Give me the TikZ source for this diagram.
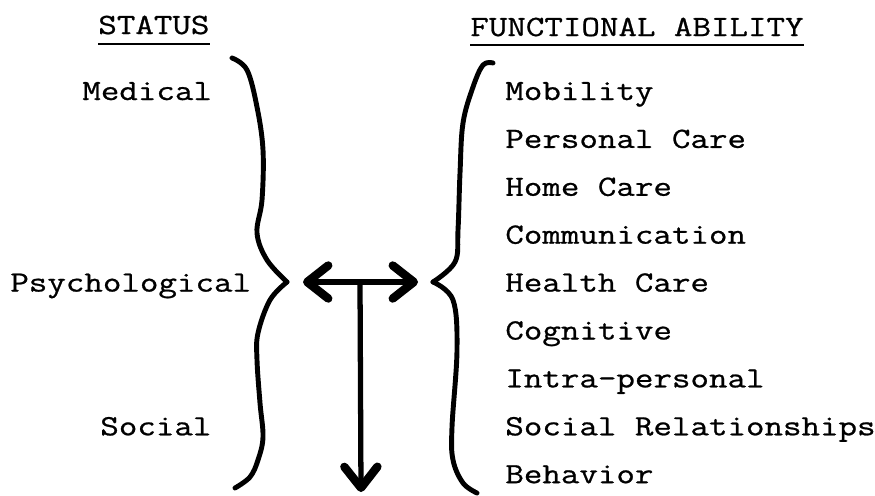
\documentclass[tikz,border=0pt]{standalone}
\usepackage{fontspec}
\setmonofont[FakeStretch=1.225, FakeBold=0.8]{Latin Modern Mono}
\usetikzlibrary{positioning,arrows.meta}

\begin{document}
\begin{tikzpicture}[
  item/.style={inner sep=0pt, anchor=base west, font=\ttfamily\fontsize{16.7}{20}\selectfont},
  brace/.style={line width=2.8pt, line cap=round, line join=round},
  link/.style={line width=3pt, -{Straight Barb[length=4.2mm, width=6.6mm, line width=4.8pt, round]}},
  node distance=0.958cm
]
\useasboundingbox (0,0) rectangle (17.5,-9.9);

% Headings
\node[item] (status) at (1.96,-0.68) {STATUS};
\node[item] (ability) at (9.40,-0.72) {FUNCTIONAL ABILITY};
\draw[line width=0.8pt] ([yshift=-0.2cm]status.base west) -- ([yshift=-0.2cm]status.base east);
\draw[line width=0.8pt] ([yshift=-0.18cm]ability.base west) -- ([yshift=-0.18cm]ability.base east);

% Functional ability list
\node[item] (m1) at (10.10,-2.00) {Mobility};
\node[item, below=of m1.base west, anchor=base west] (m2) {Personal Care};
\node[item, below=of m2.base west, anchor=base west] (m3) {Home Care};
\node[item, below=of m3.base west, anchor=base west] (m4) {Communication};
\node[item, below=of m4.base west, anchor=base west] (m5) {Health Care};
\node[item, below=of m5.base west, anchor=base west] (m6) {Cognitive};
\node[item, below=of m6.base west, anchor=base west] (m7) {Intra-personal};
\node[item, below=of m7.base west, anchor=base west] (m8) {Social Relationships};
\node[item, below=of m8.base west, anchor=base west] (m9) {Behavior};

% Status list (same typed lines)
\node[item] (med) at (1.64,0 |- m1.base) {Medical};
\node[item] (psy) at (0.20,0 |- m5.base) {Psychological};
\node[item] (soc) at (2.00,0 |- m8.base) {Social};

% Left brace
\draw[brace] plot[smooth, tension=0.6] coordinates {(4.64,-1.16) (4.94,-1.40) (5.14,-2.14) (5.26,-3.00) (5.24,-4.00) (5.14,-4.66) (5.34,-5.20) (5.74,-5.64)};
\draw[brace] plot[smooth, tension=0.6] coordinates {(5.74,-5.64) (5.40,-6.00) (5.16,-6.66) (5.14,-7.20) (5.20,-8.06) (5.26,-8.74) (5.16,-9.20) (5.00,-9.54) (4.70,-9.76)};

% Right brace
\draw[brace] plot[smooth, tension=0.6] coordinates {(9.86,-1.26) (9.66,-1.30) (9.46,-1.74) (9.26,-2.46) (9.20,-3.46) (9.16,-4.60) (9.10,-5.24) (8.66,-5.64)};
\draw[brace] plot[smooth, tension=0.6] coordinates {(8.66,-5.64) (9.06,-6.00) (9.14,-7.00) (9.04,-8.54) (9.06,-9.20) (9.26,-9.66) (9.54,-9.86)};

% Arrows
\coordinate (lt) at (6.06,-5.64);
\coordinate (rt) at (8.36,-5.64);
\coordinate (mid) at (7.20,-5.64);
\coordinate (dn) at (7.22,-9.84);
\draw[link] (mid) -- (lt);
\draw[link] (mid) -- (rt);
\draw[link] (mid) -- (dn);

\end{tikzpicture}
\end{document}
